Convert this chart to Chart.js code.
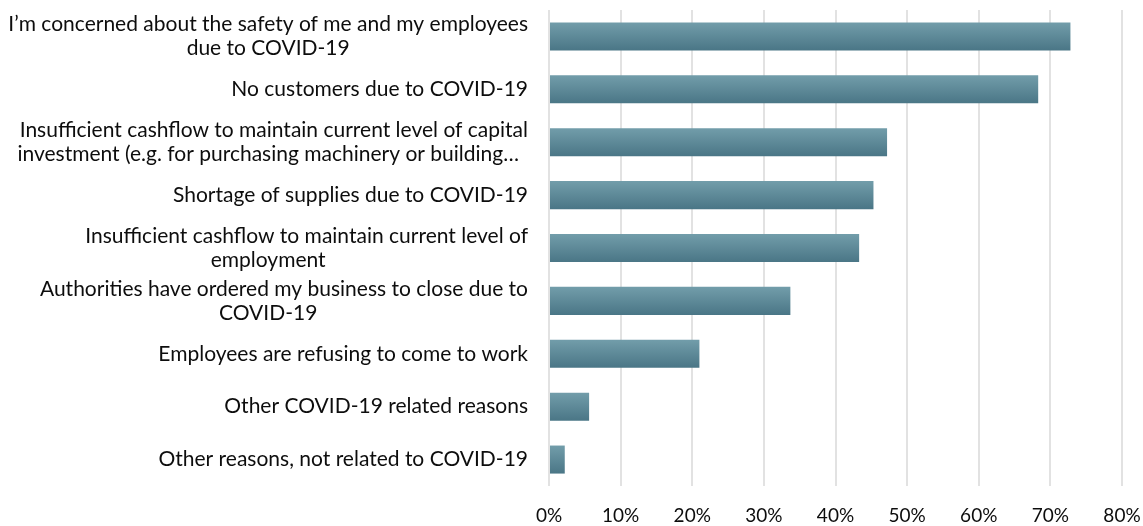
<!DOCTYPE html>
<html>
<head>
<meta charset="utf-8">
<script src="https://cdn.jsdelivr.net/npm/chart.js@4"></script>
<style>
  html, body { margin: 0; padding: 0; background: #ffffff; }
  #wrap { width: 1143px; height: 526px; position: relative; }
</style>
</head>
<body>
<div id="wrap"><canvas id="c" width="1143" height="526"></canvas></div>
<script>
// ---- data ----
const categories = [
  ["I’m concerned about the safety of me and my employees", "due to COVID-19"],
  ["No customers due to COVID-19"],
  ["Insufficient cashflow to maintain current level of capital", "investment (e.g. for purchasing machinery or building…"],
  ["Shortage of supplies due to COVID-19"],
  ["Insufficient cashflow to maintain current level of", "employment"],
  ["Authorities have ordered my business to close due to", "COVID-19"],
  ["Employees are refusing to come to work"],
  ["Other COVID-19 related reasons"],
  ["Other reasons, not related to COVID-19"]
];
const values = [72.8, 68.3, 47.2, 45.3, 43.3, 33.7, 21.0, 5.6, 2.2];
const tickValues = [0, 10, 20, 30, 40, 50, 60, 70, 80];

const FONT = 'Lato, "Open Sans", sans-serif';
const LABEL_SIZE = 21;
const LINE_H = 24;

const gradientBars = {
  id: 'gradientBars',
  beforeDatasetsDraw(chart) {
    const ctx = chart.ctx;
    const meta = chart.getDatasetMeta(0);
    meta.data.forEach(bar => {
      const top = bar.y - bar.height / 2;
      const bottom = bar.y + bar.height / 2;
      const g = ctx.createLinearGradient(0, top, 0, bottom);
      g.addColorStop(0, '#729daa');
      g.addColorStop(1, '#4a7686');
      bar.options = Object.assign({}, bar.options, { backgroundColor: g });
    });
  }
};

const yLabels = {
  id: 'yLabels',
  afterDraw(chart) {
    const ctx = chart.ctx;
    const y = chart.scales.y;
    const rightEdge = chart.chartArea.left - 21;
    ctx.save();
    ctx.font = LABEL_SIZE + 'px ' + FONT;
    ctx.fillStyle = '#0d0d0d';
    ctx.textBaseline = 'middle';
    let widest = 0;
    categories.forEach(lines => lines.forEach(l => { widest = Math.max(widest, ctx.measureText(l).width); }));
    const centerX = rightEdge - widest / 2;
    categories.forEach((lines, i) => {
      const cy = y.getPixelForTick(i);
      const n = lines.length;
      lines.forEach((line, j) => {
        const ly = cy + (j - (n - 1) / 2) * LINE_H;
        if (j === 0) {
          ctx.textAlign = 'right';
          ctx.fillText(line, rightEdge, ly);
        } else {
          ctx.textAlign = 'center';
          ctx.fillText(line, centerX, ly);
        }
      });
    });
    ctx.restore();
  }
};

new Chart(document.getElementById('c'), {
  type: 'bar',
  data: {
    labels: categories.map(l => l.join(' ')),
    datasets: [{
      data: values,
      backgroundColor: '#5e8999',
      borderWidth: 0,
      categoryPercentage: 1.0,
      barPercentage: 0.53
    }]
  },
  options: {
    indexAxis: 'y',
    responsive: false,
    animation: false,
    layout: { padding: { top: 10, right: 21, bottom: 0, left: 0 } },
    plugins: { legend: { display: false }, tooltip: { enabled: false } },
    scales: {
      x: {
        min: 0, max: 80,
        afterFit(s) { s.height = 40; s.paddingLeft = 0; s.paddingRight = 0; },
        afterBuildTicks(s) { s.ticks = tickValues.map(v => ({ value: v })); },
        grid: { color: '#e2e2e2', lineWidth: 2, drawTicks: false },
        border: { display: false },
        ticks: {
          padding: 18,
          color: '#0d0d0d',
          font: { family: FONT, size: 19 },
          callback: v => v + '%'
        }
      },
      y: {
        afterFit(s) { s.width = 549; },
        grid: { display: false, drawTicks: false },
        border: { display: false },
        ticks: { display: false }
      }
    }
  },
  plugins: [gradientBars, yLabels]
});
</script>
</body>
</html>
